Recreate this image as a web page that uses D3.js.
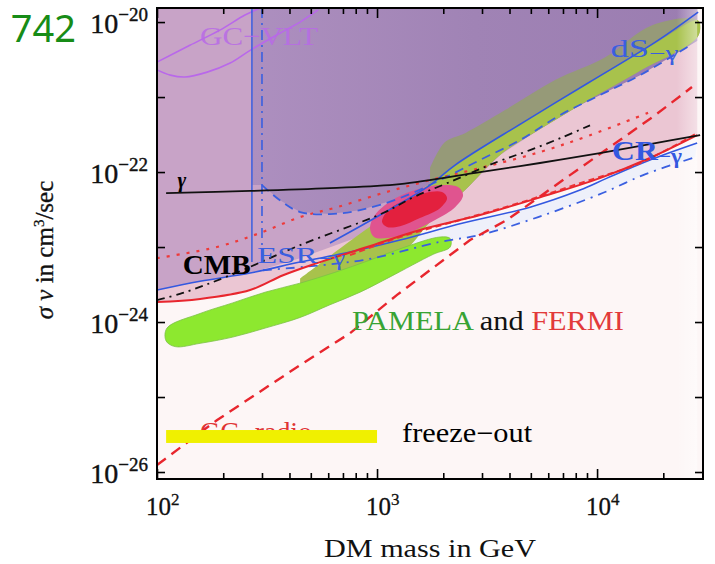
<!DOCTYPE html>
<html>
<head>
<meta charset="utf-8">
<script src="https://cdn.jsdelivr.net/npm/d3@7"></script>
<style>
  html, body { margin: 0; padding: 0; background: #ffffff; }
  svg { display: block; }
  text { font-family: "Liberation Serif", "Times New Roman", serif; }
</style>
</head>
<body>
<svg id="chart" width="715" height="564"></svg>
<script>
// ---- axes ---------------------------------------------------------------
const massDomain = [100, 3.03e4];          // DM mass in GeV
const sigmaDomain = [8.07e-27, 1.54e-20];  // <sigma v> in cm^3/s
const massMajorTicks = [1e2, 1e3, 1e4];
const massMinorTicks = [200, 300, 400, 500, 600, 700, 800, 900,
                        2000, 3000, 4000, 5000, 6000, 7000, 8000, 9000, 20000];
const massLabelExps = [2, 3, 4];
const sigmaTicks = [1e-26, 1e-25, 1e-24, 1e-23, 1e-22, 1e-21, 1e-20];
const sigmaLabelExps = [-26, -24, -22, -20];
const shadeMassMax = 2.85e4;               // shaded regions end here

// ---- curves: [mass GeV, sigma v cm^3/s] -------------------------------
const gammaLine = [[110, 5.25e-23], [265, 5.6e-23], [610, 6.1e-23], [1270, 6.9e-23],
  [2940, 1.0e-22], [5500, 1.32e-22], [10300, 1.79e-22], [17400, 2.36e-22], [29400, 3.1e-22]];
const esrVertical = [[270, 1.54e-20], [270, 6.3e-24]];
const esrVerticalDashDot = [[300, 1.54e-20], [300, 7.4e-24]];
const dwarfDashed = [[300, 6.7e-23], [362, 4.2e-23], [447, 2.93e-23], [611, 2.75e-23],
  [837, 3.1e-23], [1272, 4.5e-23], [1933, 7.8e-23], [2939, 1.45e-22], [4467, 2.67e-22],
  [6792, 5.75e-22], [10300, 1.06e-21], [15700, 1.96e-21], [26500, 4.9e-21]];
const dsSolid = [[611, 1.13e-23], [1032, 2.67e-23], [1742, 6.7e-23], [2263, 1.24e-22],
  [4560, 4.5e-22], [9100, 1.54e-21], [18400, 5.4e-21], [28800, 1.36e-20]];
const cmbCrSolid = [[100, 2.67e-24], [157, 3.5e-24], [265, 4.5e-24], [447, 6.3e-24],
  [754, 8.6e-24], [1272, 1.24e-23], [2460, 2.09e-23], [4957, 3.4e-23], [8370, 5.75e-23],
  [11100, 8.3e-23], [17400, 1.45e-22], [28500, 2.44e-22]];
const redSolid = [[100, 1.85e-24], [157, 2.03e-24], [265, 2.67e-24], [374, 4.2e-24],
  [534, 6.1e-24], [901, 1.0e-23], [1567, 1.69e-23], [2939, 2.67e-23], [5508, 4.6e-23],
  [10300, 8.3e-23], [17400, 1.54e-22], [28500, 3.1e-22]];
const redDotted = [[100, 7.1e-24], [187, 1.0e-23], [294, 1.54e-23], [447, 2.51e-23],
  [658, 3.4e-23], [1065, 5.25e-23], [1742, 7.8e-23], [2939, 1.13e-22], [5508, 1.85e-22],
  [9290, 3.1e-22], [17400, 6.3e-22]];
const redDashed = [[754, 7.8e-24], [1272, 1.36e-23], [2390, 2.3e-23], [4467, 3.9e-23],
  [8370, 7.1e-23], [15700, 1.32e-22], [28500, 3.3e-22]];
const redSteep = [[100, 1.24e-26], [187, 4.9e-26], [447, 2.67e-25], [754, 7.1e-25],
  [1233, 2.3e-24], [2648, 1.24e-23], [3899, 2.3e-23], [7530, 9.1e-23], [12700, 2.67e-22],
  [18400, 5.75e-22], [27000, 1.36e-21]];
const blackDashDot = [[100, 1.96e-24], [131, 2.44e-24], [215, 4.2e-24], [447, 1.06e-23],
  [1065, 2.84e-23], [1458, 4.6e-23], [2081, 7.1e-23], [3508, 1.36e-22], [4957, 1.96e-22],
  [7000, 2.93e-22], [9290, 4.2e-22]];
const blueDashDot = [[303, 4.9e-24], [864, 6.7e-24], [1930, 1.17e-23], [2940, 1.45e-23],
  [5400, 2.51e-23], [10600, 5.25e-23], [16200, 9.1e-23], [27900, 1.58e-22]];
const vltUpper = [[100, 2.93e-21], [141, 4.9e-21], [193, 7.8e-21], [251, 1.24e-20], [294, 1.54e-20]];
const vltLower = [[100, 2.3e-21], [115, 1.96e-21], [134, 1.85e-21], [169, 2.15e-21],
  [215, 2.84e-21], [265, 4.2e-21], [362, 7.1e-21], [447, 1.0e-20], [540, 1.45e-20]];

// ---- shaded regions -----------------------------------------------------
const lavenderLower = [[100, 2.67e-24], [157, 3.5e-24], [265, 4.5e-24], [447, 7.1e-24],
  [754, 1.24e-23], [1272, 2.15e-23], [2512, 5.75e-23], [3622, 1.69e-22], [5400, 3.6e-22],
  [9100, 9.1e-22], [15300, 2.15e-21], [28500, 6.5e-21]];
const purpleLower = [[270, 6.7e-23], [300, 6.7e-23], [362, 4.2e-23], [447, 2.93e-23],
  [611, 2.75e-23], [837, 3.1e-23], [1272, 4.5e-23], [1933, 7.8e-23], [2939, 1.45e-22],
  [4467, 2.67e-22], [6792, 5.75e-22], [10300, 1.06e-21], [15700, 1.96e-21], [28500, 5.6e-21]];
const oliveUpper = [[1742, 1.13e-22], [2037, 2.51e-22], [2512, 3.3e-22], [3819, 6.7e-22],
  [6442, 1.69e-21], [10900, 3.4e-21], [17800, 9.1e-21], [28500, 1.06e-20]];
const greenUpper = [[447, 3.8e-24], [754, 1.2e-23], [1272, 3.6e-23], [2263, 1.2e-22],
  [4560, 4.5e-22], [9100, 1.5e-21], [18400, 5.2e-21], [28800, 1.05e-20]];
const greenLower = [[28800, 6.5e-21], [15300, 2.15e-21], [9100, 9.1e-22], [5400, 3.6e-22],
  [3622, 1.69e-22], [2512, 5.75e-23], [1742, 2.15e-23], [1340, 9.1e-24], [929, 6.1e-24],
  [644, 4.2e-24], [447, 3.02e-24]];
const limeRegion = [[111, 8.3e-25], [157, 1.3e-24], [221, 1.8e-24], [310, 2.5e-24],
  [447, 3.3e-24], [644, 4.6e-24], [929, 6.7e-24], [1340, 1.0e-23], [1933, 1.36e-23],
  [2150, 1.3e-23], [2150, 1.0e-23], [1800, 8.0e-24], [1146, 4.0e-24], [837, 2.5e-24],
  [611, 1.7e-24], [447, 1.15e-24], [310, 8.3e-25], [221, 6.3e-25], [157, 5.2e-25],
  [121, 4.7e-25], [110, 5.6e-25]];
const blobOuter = [[929, 1.79e-23], [979, 2.67e-23], [1169, 4.2e-23], [1489, 5.75e-23],
  [1933, 6.7e-23], [2335, 6.3e-23], [2460, 4.9e-23], [2263, 3.4e-23], [1836, 2.3e-23],
  [1413, 1.58e-23], [1122, 1.32e-23], [969, 1.36e-23]];
const blobInner = [[1054, 2.15e-23], [1122, 3.1e-23], [1340, 4.2e-23], [1652, 5.25e-23],
  [1974, 5.4e-23], [2081, 4.5e-23], [1933, 3.3e-23], [1567, 2.44e-23], [1272, 1.9e-23],
  [1110, 1.85e-23]];
const freezeOutMass = [110, 1000];
const freezeOutSigma = [2.44e-26, 3.63e-26];

// ---- scales -------------------------------------------------------------
const svg = d3.select("#chart");
const x = d3.scaleLog().domain(massDomain).range([157, 703]);
const y = d3.scaleLog().domain(sigmaDomain).range([479, 8]);
const [xL, xR] = x.range();
const [yB, yT] = y.range();
const sTop = sigmaDomain[1];

const lin = d3.line().x(d => x(d[0])).y(d => y(d[1]));
const smooth = d3.line().x(d => x(d[0])).y(d => y(d[1])).curve(d3.curveCatmullRom.alpha(0.5));
const smoothClosed = d3.line().x(d => x(d[0])).y(d => y(d[1])).curve(d3.curveCatmullRomClosed.alpha(0.5));

const defs = svg.append("defs");
defs.append("clipPath").attr("id", "plotClip")
  .append("rect").attr("x", xL).attr("y", yT).attr("width", xR - xL).attr("height", yB - yT);

const purpleGrad = defs.append("linearGradient").attr("id", "purpleGrad")
  .attr("gradientUnits", "userSpaceOnUse")
  .attr("x1", x(270)).attr("x2", x(shadeMassMax)).attr("y1", 0).attr("y2", 0);
purpleGrad.append("stop").attr("offset", 0).attr("stop-color", "#ad8fbf");
purpleGrad.append("stop").attr("offset", 0.5).attr("stop-color", "#a083b5");
purpleGrad.append("stop").attr("offset", 1).attr("stop-color", "#9b7db1");

const fadeGrad = defs.append("linearGradient").attr("id", "fadeGrad")
  .attr("gradientUnits", "userSpaceOnUse")
  .attr("x1", x(2.3e4)).attr("x2", x(shadeMassMax)).attr("y1", 0).attr("y2", 0);
fadeGrad.append("stop").attr("offset", 0).attr("stop-color", "#fff").attr("stop-opacity", 0);
fadeGrad.append("stop").attr("offset", 1).attr("stop-color", "#fff").attr("stop-opacity", 0.45);

const plot = svg.append("g").attr("clip-path", "url(#plotClip)");

// background
plot.append("rect").attr("x", xL).attr("y", yT).attr("width", xR - xL).attr("height", yB - yT)
  .attr("fill", "#fdf6f6");

// excluded regions
plot.append("path")
  .attr("d", lin([[massDomain[0], sTop], ...redSolid, [shadeMassMax, sTop]]) + "Z")
  .attr("fill", "#ebc6d3");
plot.append("path")
  .attr("d", lin([[massDomain[0], sTop], ...lavenderLower, [shadeMassMax, sTop]]) + "Z")
  .attr("fill", "#c8a3c7");
plot.append("path")
  .attr("d", lin([[purpleLower[0][0], sTop], ...purpleLower, [shadeMassMax, sTop]]) + "Z")
  .attr("fill", "url(#purpleGrad)");
// region between the CR line and the dash-dotted bound
plot.append("path")
  .attr("d", lin([...cmbCrSolid.filter(d => d[0] >= 754), ...blueDashDot.slice(1).reverse()]) + "Z")
  .attr("fill", "#eef0fa");

// fit regions
plot.append("path")
  .attr("d", smooth([...oliveUpper, ...greenLower.filter(d => d[0] >= 1742)]) + "Z")
  .attr("fill", "#969a78");
plot.append("path")
  .attr("d", smooth([...greenUpper, ...greenLower]) + "Z")
  .attr("fill", "#a8c24c");
plot.append("path")
  .attr("d", smoothClosed(limeRegion))
  .attr("fill", "#8de82f").attr("stroke", "#7cc048").attr("stroke-width", 0.8);
plot.append("path").attr("d", smoothClosed(blobOuter)).attr("fill", "#e0548f");
plot.append("path").attr("d", smoothClosed(blobInner)).attr("fill", "#e3203e");

// soft fade at the right edge of the shading
plot.append("rect").attr("x", x(2.3e4)).attr("y", yT)
  .attr("width", x(shadeMassMax) - x(2.3e4)).attr("height", yB - yT)
  .attr("fill", "url(#fadeGrad)");

// bound curves
function drawCurve(data, color, width, dash, gen) {
  plot.append("path").attr("d", (gen || smooth)(data))
    .attr("fill", "none").attr("stroke", color).attr("stroke-width", width)
    .attr("stroke-dasharray", dash || null).attr("stroke-linecap", "butt");
}
drawCurve(vltUpper, "#b968ea", 1.6);
drawCurve(vltLower, "#b968ea", 1.6);
drawCurve(esrVertical, "#3a5fe0", 1.5, null, lin);
drawCurve(esrVerticalDashDot, "#3a5fe0", 1.6, "10,5,2,5", lin);
drawCurve(redDotted, "#ee3a3a", 2.2, "3,7");
drawCurve(blueDashDot, "#3a5fe0", 1.8, "9,6,2,6");
drawCurve(cmbCrSolid, "#3358e0", 1.6);
drawCurve(redDashed, "#ee3535", 2.0, "6,4");
drawCurve(redSolid, "#e8262e", 2.0);
drawCurve(dwarfDashed, "#3a5fe0", 1.8, "9,6");
drawCurve(dsSolid, "#3358e0", 1.6);
drawCurve(blackDashDot, "#111111", 1.8, "8,5,2,5");
drawCurve(redSteep, "#e8262e", 2.4, "11,7", lin);
drawCurve(gammaLine, "#111111", 1.8);

// labels inside the plot
function label(m, s, parts, opts) {
  const t = plot.append("text").attr("x", x(m)).attr("y", y(s))
    .attr("font-size", opts.size).attr("fill", opts.fill || "#000")
    .attr("font-weight", opts.weight || "normal")
    .attr("font-style", opts.style || "normal");
  if (opts.opacity) t.attr("opacity", opts.opacity);
  if (opts.length) t.attr("textLength", opts.length).attr("lengthAdjust", "spacingAndGlyphs");
  parts.forEach(p => {
    const ts = t.append("tspan").text(p.t);
    if (p.fill) ts.attr("fill", p.fill);
    if (p.size) ts.attr("font-size", p.size);
    if (p.dy) ts.attr("dy", p.dy);
  });
  return t;
}
label(157, 4.9e-21, [{t: "GC\u2212VLT"}], {size: 26, fill: "#b86be6", opacity: 0.85, length: 118});
label(124, 6.3e-23, [{t: "\u03b3"}], {size: 21, style: "italic", weight: "bold"});
label(1.15e4, 3.4e-21, [{t: "dS"}, {t: "\u2212\u03b3", size: 20, dy: 3}], {size: 25, fill: "#3a5fe0", length: 68});
label(1.17e4, 1.45e-22, [{t: "CR"}, {t: "\u2212\u03b3", size: 20, dy: 3}], {size: 27, fill: "#3358e0", weight: "bold", length: 70});
label(285, 6.1e-24, [{t: "ESR"}, {t: "\u2212\u03b3", size: 20, dy: 2}], {size: 24, fill: "#3a5fe0", length: 88});
label(131, 4.36e-24, [{t: "CMB"}], {size: 28, weight: "bold", length: 68});
label(769, 7.8e-25, [{t: "PAMELA", fill: "#38a334"}, {t: " and", fill: "#111"}, {t: " FERMI", fill: "#e23a3a"}],
  {size: 27, length: 272});
label(157, 2.6e-26, [{t: "GC\u2212radio"}], {size: 27, fill: "#e03434", length: 112});

// freeze-out band
plot.append("rect")
  .attr("x", x(freezeOutMass[0])).attr("y", y(freezeOutSigma[1]))
  .attr("width", x(freezeOutMass[1]) - x(freezeOutMass[0]))
  .attr("height", y(freezeOutSigma[0]) - y(freezeOutSigma[1]))
  .attr("fill", "#f0f000");
label(1300, 2.5e-26, [{t: "freeze\u2212out"}], {size: 27, length: 130});

// ---- frame and ticks ---------------------------------------------------
const axes = svg.append("g");
function tickAxis(axisFn, vals, len, tr) {
  const g = axes.append("g").attr("transform", tr)
    .call(axisFn.tickValues(vals).tickSizeInner(-len).tickSizeOuter(0).tickFormat(""));
  g.select(".domain").remove();
  g.selectAll(".tick line").attr("stroke", "#000").attr("stroke-width", 1.6);
}
tickAxis(d3.axisBottom(x), massMajorTicks, 10, `translate(0,${yB})`);
tickAxis(d3.axisBottom(x), massMinorTicks, 6, `translate(0,${yB})`);
tickAxis(d3.axisTop(x), massMajorTicks, 10, `translate(0,${yT})`);
tickAxis(d3.axisTop(x), massMinorTicks, 6, `translate(0,${yT})`);
tickAxis(d3.axisLeft(y), sigmaTicks, 8, `translate(${xL},0)`);
tickAxis(d3.axisRight(y), sigmaTicks, 8, `translate(${xR},0)`);

axes.append("rect").attr("x", xL).attr("y", yT).attr("width", xR - xL).attr("height", yB - yT)
  .attr("fill", "none").attr("stroke", "#000").attr("stroke-width", 2);

// tick labels
massMajorTicks.forEach((v, i) => {
  const t = axes.append("text").attr("x", x(v) - 11).attr("y", yB + 36)
    .attr("font-size", 25).attr("fill", "#111")
    .attr("stroke", "#111").attr("stroke-width", 0.3);
  t.append("tspan").text("10");
  t.append("tspan").attr("font-size", 17).attr("dy", -10).text(massLabelExps[i]);
});
sigmaLabelExps.forEach(e => {
  const t = axes.append("text").attr("x", xL - 9).attr("y", y(Math.pow(10, e)) + 11)
    .attr("text-anchor", "end").attr("font-size", 28).attr("fill", "#111")
    .attr("stroke", "#111").attr("stroke-width", 0.4);
  t.append("tspan").text("10");
  t.append("tspan").attr("font-size", 19).attr("dy", -12).text("\u2212" + Math.abs(e));
});

// axis titles
axes.append("text").attr("x", (xL + xR) / 2).attr("y", 557).attr("text-anchor", "middle")
  .attr("font-size", 26).attr("fill", "#111").attr("textLength", 212)
  .attr("lengthAdjust", "spacingAndGlyphs").text("DM mass in GeV");
const yt = axes.append("text").attr("transform", "translate(53,250) rotate(-90)")
  .attr("text-anchor", "middle").attr("font-size", 25).attr("fill", "#111")
  .attr("stroke", "#111").attr("stroke-width", 0.3);
yt.append("tspan").attr("font-style", "italic").text("\u03c3 v");
yt.append("tspan").text(" in cm");
yt.append("tspan").attr("font-size", 15).attr("dy", -9).text("3");
yt.append("tspan").attr("dy", 9).text("/sec");

// figure number fragment at the top left
svg.append("text").attr("x", 76).attr("y", 42).attr("text-anchor", "end")
  .style("font-family", "'Noto Sans', 'DejaVu Sans', sans-serif")
  .attr("font-size", 38).attr("fill", "#178c17").text("742");
</script>
</body>
</html>
